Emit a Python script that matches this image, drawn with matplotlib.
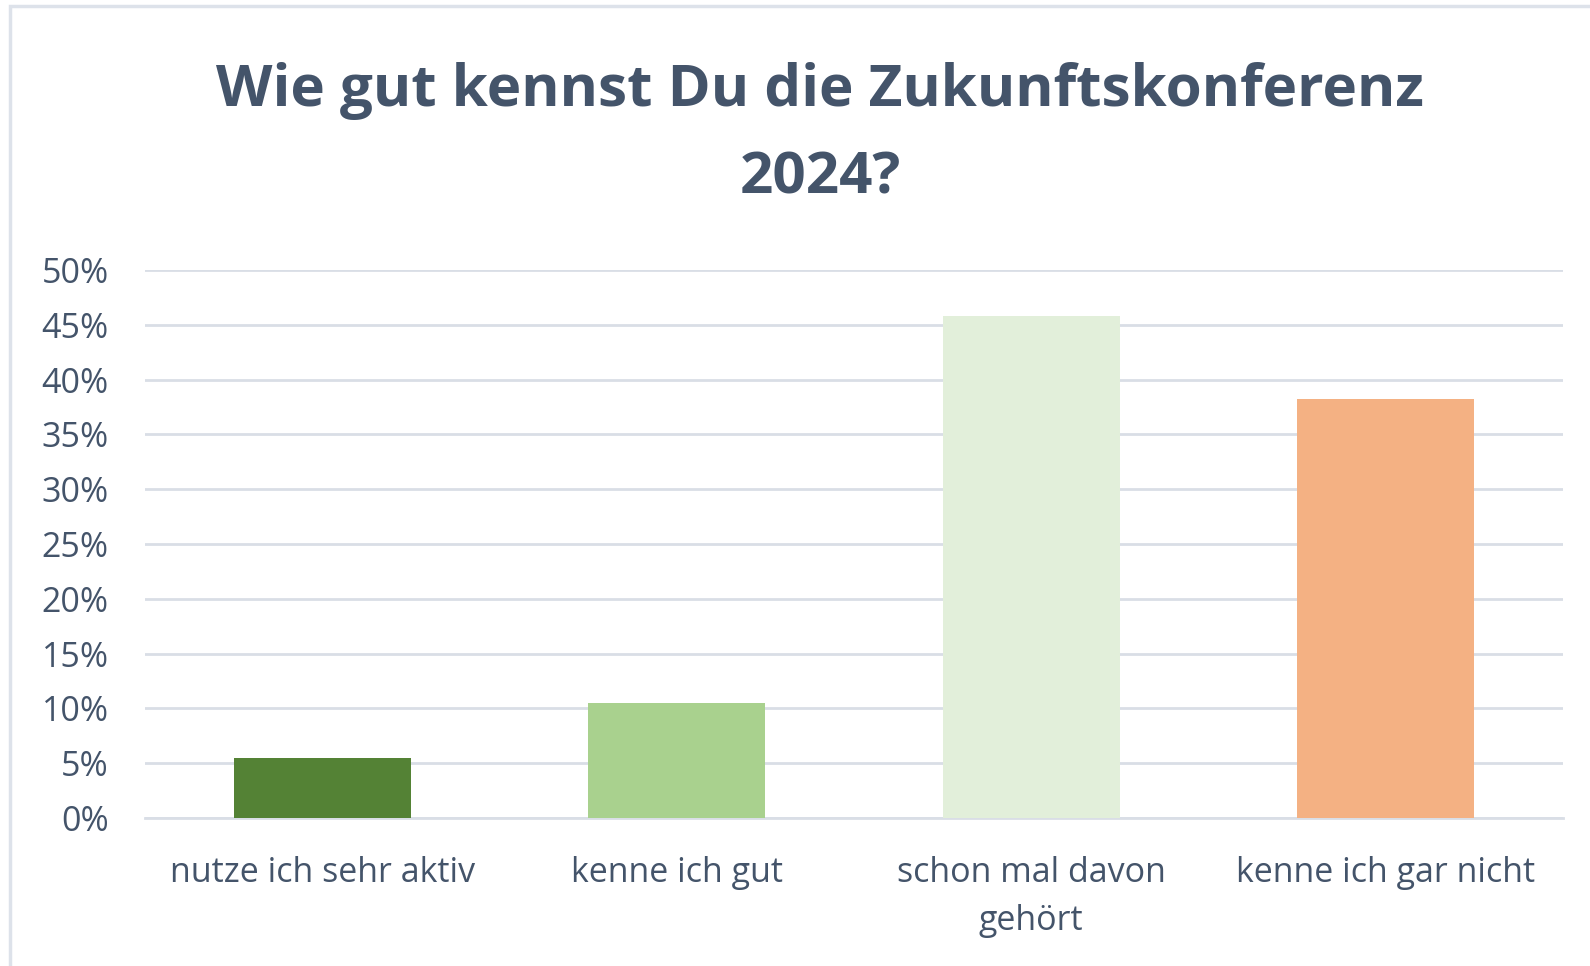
import matplotlib.pyplot as plt
import matplotlib.patches as mpatches
from matplotlib.ticker import PercentFormatter

kategorien = ['nutze ich sehr aktiv', 'kenne ich gut', 'schon mal davon\ngehört', 'kenne ich gar nicht']
anteile = [5.5, 10.5, 45.8, 38.2]
farben = ['#548235', '#A9D18E', '#E2EFDA', '#F4B183']
yticks = [0, 5, 10, 15, 20, 25, 30, 35, 40, 45, 50]

textfarbe = '#44546A'
gitterfarbe = '#D9DEE6'

plt.rcParams['font.family'] = ['Open Sans', 'DejaVu Sans']

fig = plt.figure(figsize=(15.9, 9.66), dpi=100)
ax = fig.add_axes([145 / 1590, 1 - 818 / 966, (1563 - 145) / 1590, (818 - 270) / 966])

# rahmen um das diagramm
fig.patches.append(mpatches.Rectangle((10 / 1590, -0.01), 1.1, 1 - 6 / 966 + 0.01,
                                      transform=fig.transFigure, fill=False,
                                      edgecolor='#DDE2EA', linewidth=2.5))

x = range(len(kategorien))
ax.bar(x, anteile, width=0.5, color=farben, zorder=3)

ax.set_xlim(-0.5, len(kategorien) - 0.5)
ax.set_ylim(0, 50)
ax.set_yticks(yticks)
ax.yaxis.set_major_formatter(PercentFormatter(decimals=0))
ax.set_xticks(list(x))
ax.set_xticklabels(kategorien, linespacing=1.55)

ax.grid(axis='y', color=gitterfarbe, linewidth=2, zorder=0)
for s in ['top', 'right', 'left']:
    ax.spines[s].set_visible(False)
ax.spines['bottom'].set_color(gitterfarbe)
ax.spines['bottom'].set_linewidth(2)
ax.tick_params(length=0, labelcolor=textfarbe, labelsize=24.5)
ax.tick_params(axis='y', pad=26)
ax.tick_params(axis='x', pad=27)

fig.text(820 / 1590, 1 - 135 / 966, 'Wie gut kennst Du die Zukunftskonferenz\n2024?',
         ha='center', va='center', fontsize=42, fontweight='bold', color=textfarbe,
         linespacing=1.68)

fig.savefig('out.png', dpi=100)
